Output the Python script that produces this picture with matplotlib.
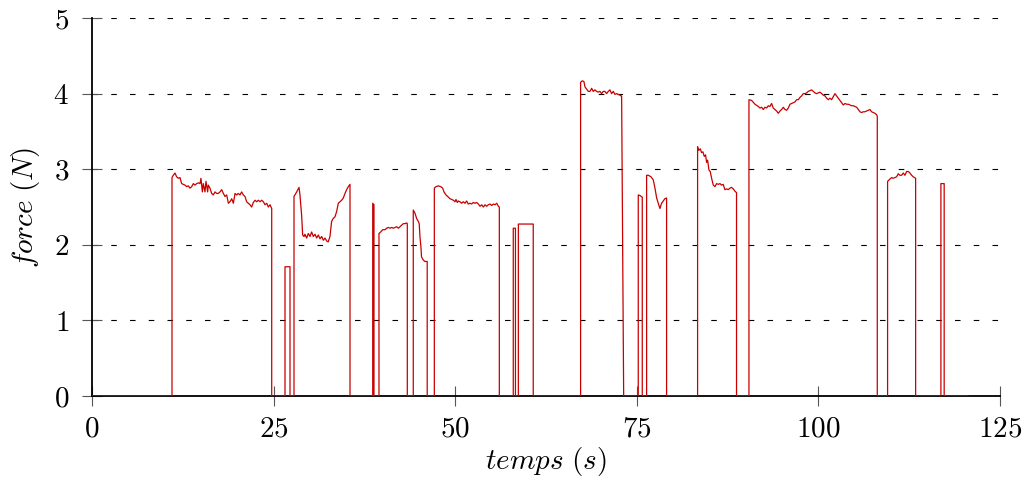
import matplotlib
matplotlib.use("Agg")
import matplotlib.pyplot as plt

plt.rcParams['font.family'] = 'serif'
plt.rcParams['font.serif'] = ['cmr10']
plt.rcParams['mathtext.fontset'] = 'cm'
plt.rcParams['axes.formatter.use_mathtext'] = True
plt.rcParams['lines.scale_dashes'] = False

#%% data: time (s) / force (N), zero between the pieces
t_11 = [11.01, 11.19, 11.42, 11.65, 11.88, 12.11, 12.34, 12.57, 12.80, 13.03,
        13.26, 13.49, 13.72, 13.95, 14.18, 14.41, 14.64, 14.87, 15.00, 15.19,
        15.32, 15.55, 15.69, 15.92, 16.01, 16.24, 16.47, 16.70, 16.93, 17.16,
        17.39, 17.62, 17.85, 18.08, 18.31, 18.54, 18.77, 19.00, 19.23, 19.46,
        19.69, 19.92, 20.14, 20.37, 20.60, 20.83, 21.06, 21.29, 21.52, 21.75,
        21.98, 22.21, 22.44, 22.67, 22.90, 23.13, 23.36, 23.59, 23.82, 24.05,
        24.28, 24.51, 24.74]
f_11 = [2.89, 2.92, 2.95, 2.90, 2.88, 2.89, 2.81, 2.80, 2.79, 2.77,
        2.78, 2.75, 2.77, 2.81, 2.79, 2.81, 2.82, 2.81, 2.88, 2.70,
        2.81, 2.70, 2.84, 2.70, 2.79, 2.75, 2.68, 2.66, 2.70, 2.68,
        2.68, 2.70, 2.73, 2.68, 2.64, 2.66, 2.55, 2.57, 2.61, 2.55,
        2.68, 2.66, 2.68, 2.66, 2.70, 2.66, 2.64, 2.57, 2.55, 2.53,
        2.50, 2.56, 2.59, 2.57, 2.59, 2.57, 2.59, 2.57, 2.53, 2.55,
        2.50, 2.53, 2.48]

t_26 = [26.57, 27.26]
f_26 = [1.71, 1.71]

t_28 = [27.81, 28.18, 28.50, 28.63, 28.86, 29.00, 29.19, 29.32, 29.55, 29.78,
        30.01, 30.24, 30.47, 30.70, 30.93, 31.16, 31.39, 31.62, 31.85, 32.08,
        32.31, 32.53, 32.76, 32.99, 33.22, 33.45, 33.68, 33.91, 34.14, 34.37,
        34.60, 34.83, 35.06, 35.29, 35.52]
f_28 = [2.64, 2.70, 2.76, 2.66, 2.39, 2.13, 2.11, 2.14, 2.09, 2.15,
        2.11, 2.17, 2.11, 2.14, 2.09, 2.13, 2.08, 2.11, 2.06, 2.09,
        2.05, 2.04, 2.11, 2.31, 2.35, 2.37, 2.44, 2.55, 2.57, 2.59,
        2.62, 2.68, 2.73, 2.77, 2.80]

t_38 = [38.65, 38.82]
f_38 = [2.55, 2.53]

t_39 = [39.51, 39.74, 40.02, 40.34, 40.57, 40.80, 41.03, 41.26, 41.49, 41.72,
        41.95, 42.18, 42.40, 42.63, 42.86, 43.09, 43.32, 43.41]
f_39 = [2.15, 2.17, 2.20, 2.20, 2.22, 2.23, 2.22, 2.23, 2.22, 2.23,
        2.24, 2.22, 2.24, 2.26, 2.28, 2.28, 2.29, 2.28]

t_44 = [44.23, 44.46, 44.69, 44.92, 45.05, 45.15, 45.28, 45.37, 45.60, 45.83,
        46.06, 46.15]
f_44 = [2.46, 2.42, 2.35, 2.31, 2.28, 2.11, 1.98, 1.84, 1.80, 1.78,
        1.78, 1.78]

t_47 = [47.13, 47.36, 47.68, 48.00, 48.28, 48.46, 48.74, 49.06, 49.29, 49.52,
        49.75, 49.98, 50.11, 50.30, 50.43, 50.66, 50.89, 51.12, 51.35, 51.58,
        51.81, 52.04, 52.27, 52.50, 52.73, 52.96, 53.19, 53.42, 53.65, 53.88,
        54.11, 54.34, 54.57, 54.80, 55.03, 55.26, 55.49, 55.72, 55.95, 56.08]
f_47 = [2.75, 2.77, 2.78, 2.77, 2.75, 2.70, 2.66, 2.63, 2.61, 2.60,
        2.59, 2.57, 2.60, 2.56, 2.58, 2.57, 2.55, 2.57, 2.55, 2.58,
        2.54, 2.55, 2.54, 2.56, 2.55, 2.56, 2.54, 2.51, 2.53, 2.50,
        2.53, 2.51, 2.53, 2.54, 2.52, 2.54, 2.53, 2.55, 2.51, 2.50]

t_58 = [58.00, 58.30]
f_58 = [2.22, 2.22]

t_59 = [58.70, 60.75]
f_59 = [2.275, 2.275]

t_67 = [67.27, 67.50, 67.73, 67.87, 68.10, 68.33, 68.56, 68.79, 69.01, 69.24,
        69.47, 69.70, 69.93, 70.16, 70.39, 70.62, 70.85, 71.08, 71.31, 71.54,
        71.77, 72.00, 72.23, 72.46, 72.69, 72.82, 72.92, 73.20]
f_67 = [4.15, 4.17, 4.16, 4.09, 4.06, 4.03, 4.03, 4.07, 4.03, 4.05,
        4.03, 4.02, 4.03, 4.00, 4.03, 4.03, 4.00, 4.03, 4.05, 4.00,
        4.03, 3.99, 4.00, 3.99, 3.98, 3.97, 3.97, 0.0]

t_75 = [75.21, 75.48, 75.76]
f_75 = [2.66, 2.65, 2.63]

t_76 = [76.36, 76.59, 76.96, 77.28, 77.51, 77.74, 77.97, 78.19, 78.42, 78.65,
        78.88, 79.11]
f_76 = [2.92, 2.92, 2.90, 2.86, 2.75, 2.62, 2.55, 2.48, 2.55, 2.58,
        2.61, 2.62]

t_83 = [83.38, 83.56, 83.75, 83.93, 84.11, 84.30, 84.48, 84.62, 84.76, 84.94,
        85.12, 85.31, 85.54, 85.77, 86.00, 86.23, 86.46, 86.68, 86.91, 87.14,
        87.37, 87.60, 87.83, 88.06, 88.29, 88.52, 88.74]
f_83 = [3.30, 3.25, 3.27, 3.22, 3.23, 3.17, 3.19, 3.09, 3.12, 2.99,
        2.97, 2.88, 2.79, 2.77, 2.81, 2.80, 2.81, 2.79, 2.80, 2.73,
        2.74, 2.73, 2.75, 2.76, 2.74, 2.71, 2.69]

t_90 = [90.45, 90.82, 91.28, 91.74, 91.96, 92.19, 92.42, 92.65, 92.88, 93.11,
        93.34, 93.57, 93.80, 94.03, 94.26, 94.49, 94.72, 94.95, 95.18, 95.41,
        95.64, 95.87, 96.10, 96.33, 96.55, 96.78, 97.01, 97.24, 97.47, 97.70,
        97.93, 98.16, 98.39, 98.62, 98.85, 99.08, 99.31, 99.54, 99.77, 100.00,
        100.23, 100.46, 100.69, 100.92, 101.15, 101.38, 101.60, 101.83, 102.06, 102.29,
        102.52, 102.75, 102.98, 103.21, 103.44, 103.67, 103.90, 104.13, 104.36, 104.59,
        104.82, 105.05, 105.28, 105.51, 105.74, 105.96, 106.19, 106.42, 106.65, 106.88,
        107.11, 107.34, 107.57, 107.80, 108.03, 108.12]
f_90 = [3.92, 3.91, 3.86, 3.83, 3.81, 3.82, 3.79, 3.82, 3.81, 3.84,
        3.83, 3.87, 3.81, 3.79, 3.77, 3.74, 3.77, 3.79, 3.82, 3.79,
        3.78, 3.81, 3.86, 3.87, 3.88, 3.89, 3.92, 3.92, 3.95, 3.97,
        4.00, 4.00, 4.01, 4.03, 4.04, 4.05, 4.03, 4.01, 4.00, 4.01,
        4.02, 4.00, 3.98, 3.97, 3.94, 3.92, 3.94, 3.92, 3.96, 4.00,
        3.97, 3.94, 3.91, 3.88, 3.85, 3.87, 3.86, 3.86, 3.85, 3.84,
        3.84, 3.83, 3.82, 3.79, 3.76, 3.75, 3.76, 3.76, 3.77, 3.78,
        3.79, 3.76, 3.75, 3.74, 3.72, 3.70]

t_109 = [109.54, 109.86, 110.09, 110.32, 110.78, 111.01, 111.24, 111.47, 111.70, 111.93,
         112.16, 112.39, 112.62, 112.85, 113.08, 113.40]
f_109 = [2.84, 2.87, 2.89, 2.88, 2.90, 2.94, 2.92, 2.92, 2.95, 2.92,
         2.97, 2.97, 2.95, 2.92, 2.90, 2.88]

t_117 = [116.88, 117.33]
f_117 = [2.81, 2.81]

t_end = 120.6

#%%
def assemble(pieces, t_end):
    t = [0.0]
    f = [0.0]
    for ts, fs in pieces:
        t += [ts[0]] + ts + [ts[-1]]
        f += [0.0] + fs + [0.0]
    t.append(t_end)
    f.append(0.0)
    return t, f

pieces = [(t_11, f_11), (t_26, f_26), (t_28, f_28), (t_38, f_38), (t_39, f_39),
          (t_44, f_44), (t_47, f_47), (t_58, f_58), (t_59, f_59), (t_67, f_67),
          (t_75, f_75), (t_76, f_76), (t_83, f_83), (t_90, f_90), (t_109, f_109),
          (t_117, f_117)]
t, f = assemble(pieces, t_end)

fig, ax = plt.subplots(figsize=(10.34, 4.88), dpi=100)
fig.subplots_adjust(left=0.089, right=0.967, bottom=0.1885, top=0.963)

ax.plot(t, f, color='#c80000', lw=0.9, zorder=3)

ax.set_xlim(0, 125)
ax.set_ylim(0, 5)
ax.set_xticks([0, 25, 50, 75, 100, 125])
ax.set_yticks([0, 1, 2, 3, 4, 5])

ax.yaxis.grid(True, color='black', lw=0.8, linestyle=(0, (4, 9.5)))
ax.set_axisbelow(True)

ax.spines['top'].set_visible(False)
ax.spines['right'].set_visible(False)
ax.spines['left'].set_linewidth(1.3)
ax.spines['bottom'].set_linewidth(1.3)
ax.spines['bottom'].set_zorder(2.5)

ax.tick_params(direction='inout', length=15, width=0.8, color='#555555',
               labelsize=21)
ax.tick_params(axis='x', pad=7)
ax.tick_params(axis='y', pad=9)

ax.set_xlabel(r'$\mathit{temps\ (s)}$', fontsize=21, labelpad=2)
ax.set_ylabel(r'$\mathit{force\ (N)}$', fontsize=21, labelpad=8)

fig.savefig('out.png', dpi=100)
